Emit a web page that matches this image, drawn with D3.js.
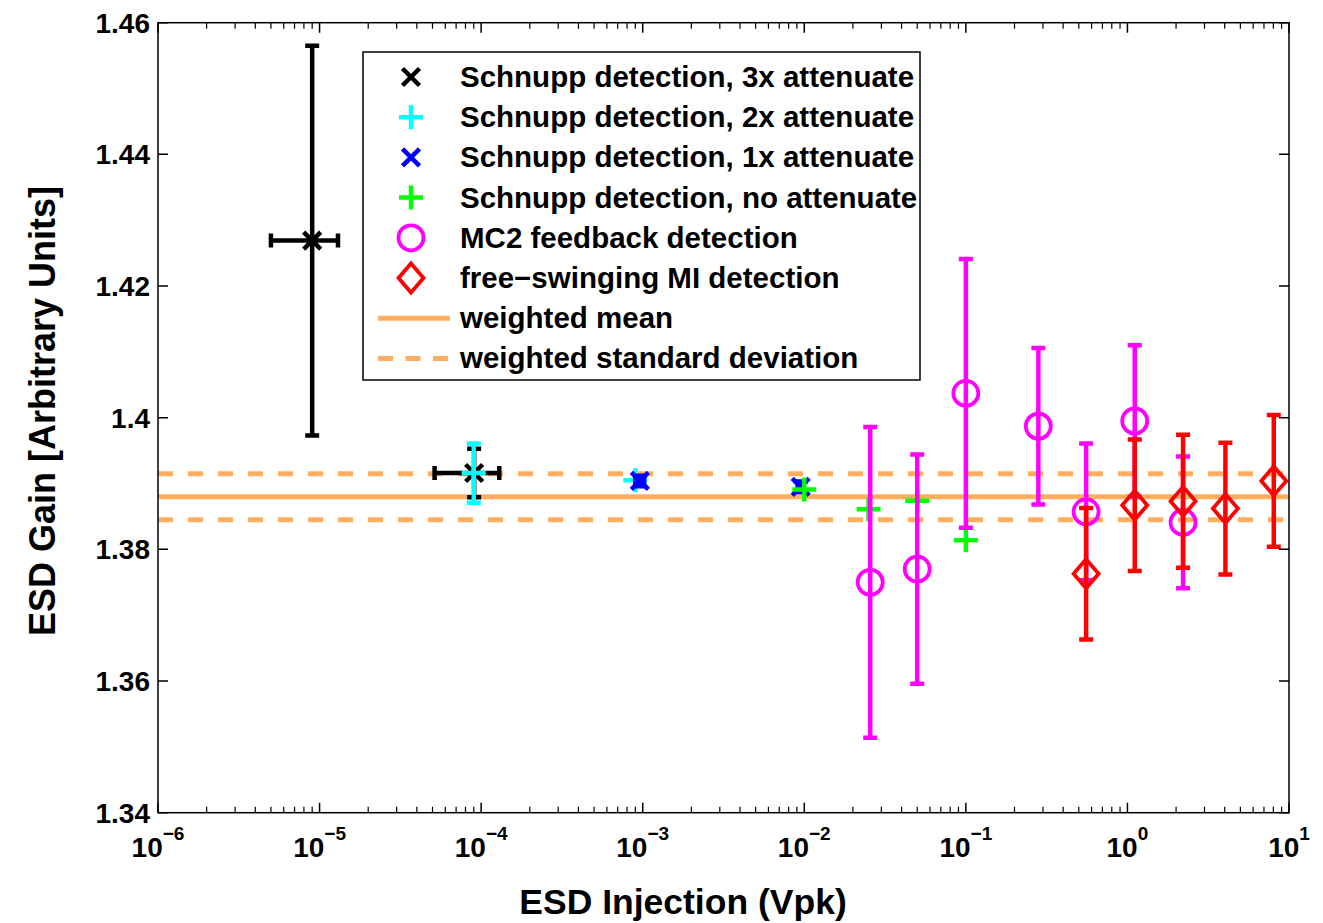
<!DOCTYPE html>
<html>
<head>
<meta charset="utf-8">
<script src="https://cdn.jsdelivr.net/npm/d3@7"></script>
<style>
  body { margin: 0; background: #fff; }
  svg { display: block; font-family: "Liberation Sans", Arial, Helvetica, sans-serif; font-weight: bold; }
</style>
</head>
<body>
<svg id="chart" width="1323" height="923"></svg>
<script>
// values (x = injection in Vpk, y = gain)
const att3X = [9.0e-6, 9.05e-5];
const att3Y = [1.4269, 1.3916];
const att3YErr = [0.0296, 0.0037];
const att3XErr = [4.0e-6, 3.9e-5];

const att2X = [9.0e-5, 9.0e-4];
const att2Y = [1.3916, 1.3905];
const att2YErr = [0.0045, 0];
const att2XErr = [0, 0];

const att1X = [9.6e-4, 9.5e-3];
const att1Y = [1.3904, 1.3895];
const att1YErr = [0.0008, 0.0008];
const att1XErr = [0.6e-4, 0.4e-3];

const noAttX = [1.0e-2, 0.025, 0.050, 0.100];
const noAttY = [1.3891, 1.3861, 1.3874, 1.3814];
const noAttYErr = [0, 0, 0, 0];
const noAttXErr = [0, 0, 0, 0];

const mc2X = [0.0256, 0.050, 0.100, 0.281, 0.555, 1.11, 2.21];
const mc2Y = [1.3750, 1.3770, 1.4037, 1.3987, 1.3857, 1.3995, 1.3841];
const mc2YErr = [0.0236, 0.0174, 0.0204, 0.0119, 0.0104, 0.0115, 0.0100];

const miX = [0.555, 1.11, 2.21, 4.04, 8.05];
const miY = [1.3763, 1.3867, 1.3873, 1.3862, 1.3904];
const miYErr = [0.0100, 0.0100, 0.0101, 0.0100, 0.0100];

const weightedMean = 1.3880;
const weightedStd = 0.0035;

const xDomain = [1e-6, 1e1];
const yDomain = [1.34, 1.46];
const yTicks = [1.34, 1.36, 1.38, 1.4, 1.42, 1.44, 1.46];
const xTickExps = [-6, -5, -4, -3, -2, -1, 0, 1];

const legendLabels = [
  "Schnupp detection, 3x attenuate",
  "Schnupp detection, 2x attenuate",
  "Schnupp detection, 1x attenuate",
  "Schnupp detection, no attenuate",
  "MC2 feedback detection",
  "free\u2212swinging MI detection",
  "weighted mean",
  "weighted standard deviation"
];

const orange = "#ffae60";
const pLeft = 158, pRight = 1289, pTop = 22.7, pBottom = 812.7;

const svg = d3.select("#chart");
const x = d3.scaleLog().domain(xDomain).range([pLeft, pRight]);
const y = d3.scaleLinear().domain(yDomain).range([pBottom, pTop]);

// mean and std lines behind the data
const gLines = svg.append("g");
gLines.append("line")
  .attr("x1", pLeft).attr("x2", pRight)
  .attr("y1", y(weightedMean)).attr("y2", y(weightedMean))
  .attr("stroke", orange).attr("stroke-width", 5);
[weightedMean + weightedStd, weightedMean - weightedStd].forEach(v => {
  gLines.append("line")
    .attr("x1", pLeft).attr("x2", pRight)
    .attr("y1", y(v)).attr("y2", y(v))
    .attr("stroke", orange).attr("stroke-width", 5)
    .attr("stroke-dasharray", "15,15");
});

// marker shapes
function drawMarker(g, kind, cx, cy, color) {
  if (kind === "x") {
    const a = 8.5;
    g.append("path").attr("d", `M${cx-a},${cy-a}L${cx+a},${cy+a}M${cx-a},${cy+a}L${cx+a},${cy-a}`)
      .attr("stroke", color).attr("stroke-width", 4.5).attr("fill", "none");
  } else if (kind === "+") {
    const a = 12;
    g.append("path").attr("d", `M${cx-a},${cy}L${cx+a},${cy}M${cx},${cy-a}L${cx},${cy+a}`)
      .attr("stroke", color).attr("stroke-width", 4.5).attr("fill", "none");
  } else if (kind === "o") {
    g.append("circle").attr("cx", cx).attr("cy", cy).attr("r", 12.5)
      .attr("stroke", color).attr("stroke-width", 3.8).attr("fill", "none");
  } else if (kind === "d") {
    const w = 12.5, h = 14.5;
    g.append("path").attr("d", `M${cx},${cy-h}L${cx+w},${cy}L${cx},${cy+h}L${cx-w},${cy}Z`)
      .attr("stroke", color).attr("stroke-width", 3.8).attr("fill", "none");
  }
}

function drawSeries(xs, ys, yErr, xErr, kind, color) {
  const g = svg.append("g");
  const cap = 7;
  xs.forEach((xv, i) => {
    const cx = x(xv), cy = y(ys[i]);
    const e = yErr[i];
    if (e > 0) {
      const y0 = y(ys[i] + e), y1 = y(ys[i] - e);
      g.append("path")
        .attr("d", `M${cx},${y0}L${cx},${y1}M${cx-cap},${y0}L${cx+cap},${y0}M${cx-cap},${y1}L${cx+cap},${y1}`)
        .attr("stroke", color).attr("stroke-width", 4.5).attr("fill", "none");
    }
    const h = xErr ? xErr[i] : 0;
    if (h > 0) {
      const x0 = x(xv - h), x1 = x(xv + h);
      g.append("path")
        .attr("d", `M${x0},${cy}L${x1},${cy}M${x0},${cy-cap}L${x0},${cy+cap}M${x1},${cy-cap}L${x1},${cy+cap}`)
        .attr("stroke", color).attr("stroke-width", 4.5).attr("fill", "none");
    }
  });
  xs.forEach((xv, i) => drawMarker(g, kind, x(xv), y(ys[i]), color));
}

drawSeries(att3X, att3Y, att3YErr, att3XErr, "x", "#000000");
drawSeries(att2X, att2Y, att2YErr, att2XErr, "+", "#00ffff");
drawSeries(att1X, att1Y, att1YErr, att1XErr, "x", "#0000ff");
drawSeries(noAttX, noAttY, noAttYErr, noAttXErr, "+", "#00ff00");
drawSeries(mc2X, mc2Y, mc2YErr, null, "o", "#ff00ff");
drawSeries(miX, miY, miYErr, null, "d", "#ff0000");

// axes box with inward ticks
const gAx = svg.append("g");
gAx.append("rect").attr("x", pLeft).attr("y", pTop)
  .attr("width", pRight - pLeft).attr("height", pBottom - pTop)
  .attr("fill", "none").attr("stroke", "#000").attr("stroke-width", 1.5);

const majorLen = 10, minorLen = 6;
xTickExps.forEach(p => {
  const xv = x(Math.pow(10, p));
  gAx.append("path").attr("d", `M${xv},${pBottom}V${pBottom-majorLen}M${xv},${pTop}V${pTop+majorLen}`)
    .attr("stroke", "#000").attr("stroke-width", 1.5);
  if (p < 1) {
    for (let k = 2; k <= 9; k++) {
      const xm = x(k * Math.pow(10, p));
      gAx.append("path").attr("d", `M${xm},${pBottom}V${pBottom-minorLen}M${xm},${pTop}V${pTop+minorLen}`)
        .attr("stroke", "#000").attr("stroke-width", 1.2);
    }
  }
  const t = gAx.append("text").attr("x", xv).attr("y", 857)
    .attr("text-anchor", "middle").attr("font-size", 28).attr("fill", "#000");
  t.append("tspan").text("10");
  t.append("tspan").attr("dy", -17).attr("font-size", 19).text(p < 0 ? "\u2212" + (-p) : String(p));
});

yTicks.forEach(v => {
  const yv = y(v);
  gAx.append("path").attr("d", `M${pLeft},${yv}H${pLeft+majorLen}M${pRight},${yv}H${pRight-majorLen}`)
    .attr("stroke", "#000").attr("stroke-width", 1.5);
  gAx.append("text").attr("x", 150).attr("y", yv + 10)
    .attr("text-anchor", "end").attr("font-size", 28).attr("fill", "#000")
    .text(String(+v.toFixed(2)));
});

// axis labels
svg.append("text").attr("x", 683).attr("y", 914)
  .attr("text-anchor", "middle").attr("font-size", 35.5).text("ESD Injection (Vpk)");
svg.append("text")
  .attr("transform", `translate(55,411) rotate(-90)`)
  .attr("text-anchor", "middle").attr("font-size", 36).text("ESD Gain [Arbitrary Units]");

// legend
const lg = svg.append("g");
lg.append("rect").attr("x", 363).attr("y", 52).attr("width", 557).attr("height", 328)
  .attr("fill", "#fff").attr("stroke", "#000").attr("stroke-width", 1.5);
const legendKinds = ["x", "+", "x", "+", "o", "d", "line", "dash"];
const legendColors = ["#000000", "#00ffff", "#0000ff", "#00ff00", "#ff00ff", "#ff0000", orange, orange];
legendLabels.forEach((lab, i) => {
  const ry = 77 + i * 40.2;
  const kind = legendKinds[i];
  if (kind === "line" || kind === "dash") {
    const l = lg.append("line").attr("x1", 378).attr("x2", 450).attr("y1", ry).attr("y2", ry)
      .attr("stroke", legendColors[i]).attr("stroke-width", 5);
    if (kind === "dash") l.attr("stroke-dasharray", "15,12.5");
  } else {
    drawMarker(lg, kind, 411, ry, legendColors[i]);
  }
  lg.append("text").attr("x", 460).attr("y", ry + 10).attr("font-size", 29.5).text(lab);
});
</script>
</body>
</html>
